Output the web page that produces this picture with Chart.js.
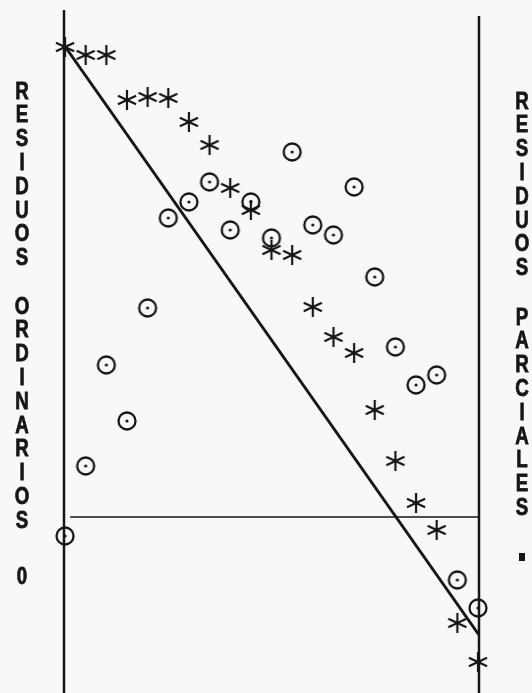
<!DOCTYPE html>
<html>
<head>
<meta charset="utf-8">
<script src="https://cdn.jsdelivr.net/npm/chart.js"></script>
<style>
  html, body { margin: 0; padding: 0; background: #f8f8f6; }
  canvas { display: block; }
</style>
</head>
<body>
<canvas id="resChart" width="532" height="693"></canvas>
<script>
  // observaciones 1..21
  var obs = [1, 2, 3, 4, 5, 6, 7, 8, 9, 10, 11, 12, 13, 14, 15, 16, 17, 18, 19, 20, 21];
  // residuos ordinarios (circulo con punto)
  var ordinarios = [-1.9, 5.1, 15.2, 9.6, 20.9, 29.9, 31.5, 33.5, 28.7, 31.5, 27.9,
                    36.5, 29.2, 28.2, 33.0, 24.0, 17.0, 13.2, 14.2, -6.3, -9.1];
  // residuos parciales (asterisco)
  var parciales = [47.0, 46.2, 46.2, 41.7, 42.0, 41.9, 39.5, 37.2, 32.9, 30.7, 26.7,
                   26.2, 21.0, 18.0, 16.4, 10.7, 5.6, 1.4, -1.3, -10.6, -14.5];
  // recta ajustada
  var rectaX = [0.95, 21.05];
  var rectaY = [47.2, -11.8];

  var xMin = 0.95, xMax = 21.05;
  var yMin = -17.6, yMax = 50.7;

  var ink = '#161616';

  function circleDot() {
    var c = document.createElement('canvas');
    c.width = 24; c.height = 24;
    var g = c.getContext('2d');
    g.strokeStyle = ink;
    g.lineWidth = 2.3;
    g.beginPath();
    g.arc(12, 12, 8.5, 0, Math.PI * 2);
    g.stroke();
    g.fillStyle = ink;
    g.beginPath();
    g.arc(12, 12, 1.6, 0, Math.PI * 2);
    g.fill();
    return c;
  }

  function asterisk() {
    var c = document.createElement('canvas');
    c.width = 24; c.height = 24;
    var g = c.getContext('2d');
    g.strokeStyle = ink;
    g.lineWidth = 2.2;
    var r = 10;
    [90, 25, 155].forEach(function(a) {
      var t = a * Math.PI / 180;
      g.beginPath();
      g.moveTo(12 - r * Math.cos(t), 12 - r * Math.sin(t));
      g.lineTo(12 + r * Math.cos(t), 12 + r * Math.sin(t));
      g.stroke();
    });
    return c;
  }

  var ptsOrd = obs.map(function(x, i) { return { x: x, y: ordinarios[i] }; });
  var ptsPar = obs.map(function(x, i) { return { x: x, y: parciales[i] }; });
  var ptsRecta = rectaX.map(function(x, i) { return { x: x, y: rectaY[i] }; });

  // ejes y textos verticales
  var marco = {
    id: 'marco',
    beforeDatasetsDraw: function(chart) {
      var ctx = chart.ctx, sx = chart.scales.x, sy = chart.scales.y;
      ctx.save();
      ctx.strokeStyle = ink;
      ctx.lineWidth = 2.5;
      ctx.beginPath();
      ctx.moveTo(sx.getPixelForValue(xMin), sy.getPixelForValue(yMax));
      ctx.lineTo(sx.getPixelForValue(xMin), sy.getPixelForValue(yMin));
      ctx.moveTo(sx.getPixelForValue(xMax), sy.getPixelForValue(50.1));
      ctx.lineTo(sx.getPixelForValue(xMax), sy.getPixelForValue(yMin));
      ctx.stroke();
      ctx.lineWidth = 1.6;
      ctx.beginPath();
      ctx.moveTo(sx.getPixelForValue(1.25), sy.getPixelForValue(0));
      ctx.lineTo(sx.getPixelForValue(xMax), sy.getPixelForValue(0));
      ctx.stroke();
      ctx.restore();
    },
    afterDraw: function(chart) {
      var ctx = chart.ctx;
      ctx.save();
      ctx.fillStyle = ink;
      ctx.strokeStyle = ink;
      ctx.lineWidth = 0.8;
      ctx.font = 'bold 24px "Liberation Sans", Arial, sans-serif';
      ctx.textAlign = 'center';
      ctx.textBaseline = 'middle';
      function columna(txt, x, y0, paso) {
        for (var i = 0; i < txt.length; i++) {
          ctx.save();
          ctx.translate(x, y0 + i * paso);
          ctx.scale(0.78, 1);
          ctx.fillText(txt[i], 0, 0);
          ctx.strokeText(txt[i], 0, 0);
          ctx.restore();
        }
      }
      columna('RESIDUOS', 22, 92, 23.8);
      columna('ORDINARIOS', 22, 307, 23.8);
      columna('0', 22, 577, 0);
      columna('RESIDUOS', 522, 102, 23.8);
      columna('PARCIALES', 522, 318, 23.8);
      ctx.fillRect(519, 553, 6, 8);
      ctx.restore();
    }
  };

  var ctx = document.getElementById('resChart').getContext('2d');
  var resChart = new Chart(ctx, {
    type: 'scatter',
    data: {
      datasets: [{
        label: 'Residuos ordinarios',
        data: ptsOrd,
        pointStyle: circleDot(),
        pointRadius: 10,
        clip: false
      }, {
        label: 'Residuos parciales',
        data: ptsPar,
        pointStyle: asterisk(),
        pointRadius: 10,
        clip: false
      }, {
        label: 'Recta',
        data: ptsRecta,
        showLine: true,
        borderColor: ink,
        borderWidth: 3,
        pointRadius: 0,
        clip: false
      }]
    },
    options: {
      responsive: false,
      devicePixelRatio: 1,
      animation: false,
      layout: { autoPadding: false, padding: { left: 64, right: 53, top: 10, bottom: 0 } },
      plugins: {
        legend: { display: false },
        tooltip: { enabled: false }
      },
      scales: {
        x: { type: 'linear', min: xMin, max: xMax, display: false },
        y: { type: 'linear', min: yMin, max: yMax, display: false }
      }
    },
    plugins: [marco]
  });
</script>
</body>
</html>
